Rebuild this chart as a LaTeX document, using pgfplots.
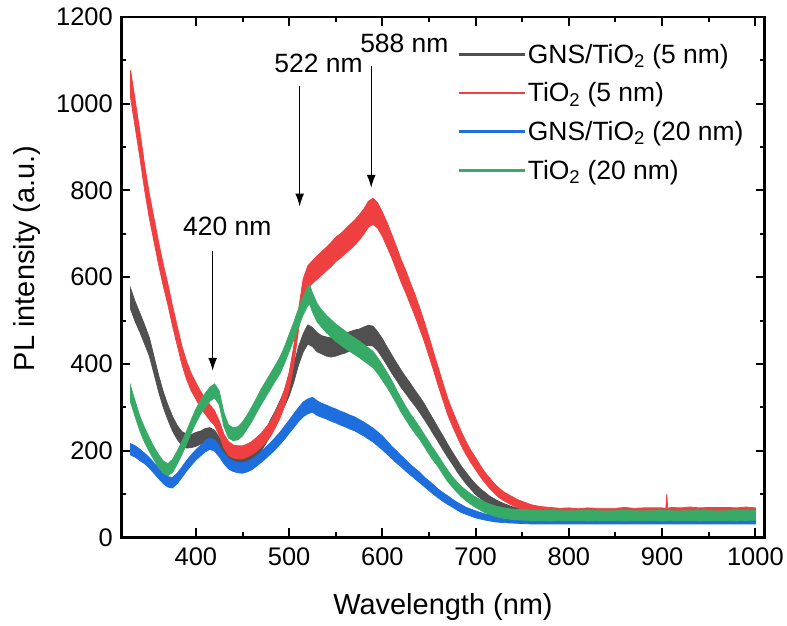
\documentclass[border=0pt]{standalone}
\usepackage{fontspec}
\setmainfont{Liberation Sans}
\usepackage{pgfplots}
\pgfplotsset{compat=1.18}
\usepackage{pgfplotstable}
\usepgfplotslibrary{fillbetween}
\usetikzlibrary{arrows.meta}
\definecolor{cblack}{RGB}{80,80,80}
\definecolor{cred}{RGB}{238,64,64}
\definecolor{cblue}{RGB}{30,110,222}
\definecolor{cgreen}{RGB}{56,170,104}

% columns: wavelength, band centre, band half-width (noise)
\pgfplotstableread{
x c h
330 550 24
335 520 23
340 495 22
345 468 22
350 440 21
355 398 20
360 355 19
365 318 18
370 288 17
375 262 17
380 242 16
385 228 16
390 222 16
395 222 15
400 226 16
405 230 15
410 235 16
415 238 15
420 232 15
425 216 15
430 198 14
435 186 14
440 180 14
445 178 13
450 178 14
455 183 14
460 190 14
465 200 15
470 214 15
475 232 16
480 254 17
485 274 17
490 296 18
495 320 18
500 345 19
505 378 20
510 418 21
515 448 21
520 468 22
525 462 22
530 450 22
535 444 21
540 440 22
545 438 22
550 440 22
555 444 22
560 448 23
565 452 22
570 455 23
575 458 22
580 462 23
585 466 23
590 464 23
595 452 22
600 436 22
605 418 21
610 400 21
615 383 20
620 366 20
625 351 19
630 336 19
635 321 18
640 306 18
645 290 18
650 272 17
655 254 17
660 236 16
665 218 16
670 200 15
675 183 14
680 166 14
685 150 13
690 136 13
695 123 12
700 111 12
705 101 11
710 93 11
715 85 10
720 79 10
725 73 10
730 68 10
740 61 9
750 56 9
760 53 9
780 50 9
800 48 9
850 48 9
900 48 9
950 48 9
1000 48 9
}\blk

\pgfplotstableread{
x c h
330 1045 32
335 975 31
340 905 30
345 830 29
350 765 28
355 710 27
360 655 26
365 605 25
370 560 24
375 510 23
380 465 22
385 420 21
390 385 21
395 358 20
400 338 19
405 318 19
410 302 18
415 288 18
420 275 17
425 252 17
430 222 16
435 205 16
440 198 15
445 196 15
450 196 15
455 200 15
460 206 15
465 214 16
470 224 16
475 236 17
480 250 17
485 270 18
490 292 18
495 322 19
500 360 20
505 420 21
510 500 23
515 572 24
520 600 26
525 612 26
530 622 27
535 632 27
540 642 27
545 652 28
550 664 28
555 672 28
560 682 28
565 692 29
570 702 29
575 714 29
580 728 29
585 745 30
590 752 30
595 742 29
600 722 28
605 698 28
610 672 27
615 644 27
620 615 26
625 590 26
630 562 25
635 535 25
640 505 24
645 474 23
650 440 22
655 405 21
660 370 21
665 336 20
670 302 19
675 275 18
680 250 17
685 226 16
690 205 15
695 186 14
700 170 14
705 153 13
710 138 12
715 125 12
720 113 11
725 103 11
730 95 10
735 89 10
740 83 10
745 78 9
750 74 9
755 70 9
760 67 8
770 63 8
780 61 8
790 60 7
800 60 8
810 59 7
820 60 8
830 60 7
840 59 8
850 60 7
860 61 8
870 60 7
880 60 8
890 61 7
900 60 8
904 60 7
905 80 20
906 60 7
910 61 8
920 61 7
930 62 8
940 61 7
950 61 8
960 62 7
970 61 8
980 61 7
990 62 8
1000 61 7
}\red

\pgfplotstableread{
x c h
330 203 13
335 198 13
340 190 13
345 182 12
350 172 12
355 160 12
360 148 12
365 136 12
370 128 12
375 126 12
380 136 12
385 150 12
390 165 12
395 178 12
400 190 12
405 200 12
410 210 13
415 216 13
420 212 13
425 198 12
430 182 12
435 170 12
440 164 12
445 161 12
450 160 12
455 163 12
460 168 12
465 176 12
470 185 12
475 195 13
480 205 13
485 216 14
490 228 14
495 241 15
500 255 15
505 269 16
510 283 16
515 295 17
520 302 17
525 306 17
530 298 17
535 293 16
540 289 16
545 284 16
550 280 16
555 275 16
560 271 16
565 266 16
570 262 16
575 256 16
580 250 16
585 243 16
590 236 16
595 227 16
600 218 16
605 207 15
610 196 14
615 186 14
620 176 13
625 166 13
630 156 12
635 147 12
640 138 12
645 128 11
650 119 11
655 110 11
660 101 10
665 93 10
670 86 10
675 79 9
680 72 9
685 66 9
690 61 8
695 57 8
700 53 8
710 47 7
720 43 7
730 41 7
740 40 7
750 39 7
760 38 7
780 38 7
800 38 7
820 38 7
840 38 7
860 38 7
880 38 7
900 38 7
920 38 7
940 38 7
960 38 7
980 38 7
1000 38 7
}\blu

\pgfplotstableread{
x c h
330 330 19
335 295 18
340 262 17
345 236 17
350 214 16
355 194 15
360 176 15
365 162 14
370 156 14
375 165 15
380 184 15
385 206 15
390 230 15
395 256 15
400 280 16
405 300 16
410 316 16
415 330 16
420 338 16
425 322 16
430 272 16
435 244 15
440 238 15
445 240 15
450 250 16
455 266 16
460 284 17
465 304 17
470 324 18
475 342 18
480 360 18
485 378 18
490 396 19
495 420 19
500 448 20
505 476 20
510 506 21
515 534 21
520 556 22
522 560 22
525 542 22
530 518 21
535 504 20
540 492 20
545 482 20
550 472 20
555 464 20
560 456 20
565 448 19
570 441 19
575 434 19
580 426 19
585 418 19
590 410 19
595 396 18
600 380 18
605 363 17
610 345 17
615 325 16
620 305 16
625 287 15
630 270 15
635 255 15
640 240 14
645 223 14
650 206 14
655 190 14
660 175 13
665 158 13
670 142 13
675 128 12
680 116 12
685 105 12
690 96 12
695 88 12
700 81 12
710 69 12
720 61 12
730 56 12
740 53 12
750 52 12
760 51 12
780 50 12
800 50 11
820 50 12
840 50 11
860 50 12
880 50 11
900 50 12
920 50 11
940 50 12
960 50 11
980 50 12
1000 51 11
}\grn

\begin{document}
\begin{tikzpicture}
\begin{axis}[
  scale only axis, width=644.5pt, height=521.3pt,
  xmin=320, xmax=1010, ymin=0, ymax=1200,
  xtick={400,500,...,1000}, ytick={0,200,...,1200},
  minor x tick num=1, minor y tick num=1,
  tick align=inside, tick pos=both,
  major tick length=9pt, minor tick length=5pt,
  every tick/.style={black, line width=2pt},
  axis line style={line width=2.5pt},
  xlabel={Wavelength (nm)}, ylabel={PL intensity (a.u.)},
  every axis x label/.style={at={(axis description cs:0.5,-0.1347)}, anchor=center},
  every axis y label/.style={at={(axis description cs:-0.1466,0.536)}, rotate=90, anchor=center},
  label style={font=\fontsize{29}{34}\selectfont},
  tick label style={font=\fontsize{25.5}{30}\selectfont},
  /pgf/number format/assume math mode=true,
  /pgf/number format/1000 sep={},
  scaled ticks=false,
  yticklabel style={xshift=-5pt},
  xticklabel style={yshift=-7pt},
  legend image code/.code={\draw[#1] (0pt,0pt) -- (62pt,0pt); \path (0pt,0pt) -- (66pt,0pt);},
  legend style={at={(0.5175,0.956)}, anchor=north west, draw=none, fill=none,
    font=\fontsize{26.5}{31}\selectfont, row sep=14pt},
  legend cell align=left,
]
\addplot[name path=ku, draw=none, forget plot] table[x=x, y expr=\thisrow{c}+\thisrow{h}] {\blk};
\addplot[name path=kl, draw=none, forget plot] table[x=x, y expr=\thisrow{c}-\thisrow{h}] {\blk};
\addplot[fill=cblack, draw=cblack, line width=0.8pt, forget plot] fill between[of=ku and kl];

\addplot[name path=ru, draw=none, forget plot] table[x=x, y expr=\thisrow{c}+\thisrow{h}] {\red};
\addplot[name path=rl, draw=none, forget plot] table[x=x, y expr=\thisrow{c}-\thisrow{h}] {\red};
\addplot[fill=cred, draw=cred, line width=0.8pt, forget plot] fill between[of=ru and rl];

\addplot[name path=bu, draw=none, forget plot] table[x=x, y expr=\thisrow{c}+\thisrow{h}] {\blu};
\addplot[name path=bl, draw=none, forget plot] table[x=x, y expr=\thisrow{c}-\thisrow{h}] {\blu};
\addplot[fill=cblue, draw=cblue, line width=0.8pt, forget plot] fill between[of=bu and bl];

\addplot[name path=gu, draw=none, forget plot] table[x=x, y expr=\thisrow{c}+\thisrow{h}] {\grn};
\addplot[name path=gl, draw=none, forget plot] table[x=x, y expr=\thisrow{c}-\thisrow{h}] {\grn};
\addplot[fill=cgreen, draw=cgreen, line width=0.8pt, forget plot] fill between[of=gu and gl];

\addlegendimage{cblack, line width=2.5pt}
\addlegendentry{GNS/TiO\textsubscript{2} (5 nm)}
\addlegendimage{cred, line width=2.5pt}
\addlegendentry{TiO\textsubscript{2} (5 nm)}
\addlegendimage{cblue, line width=2.5pt}
\addlegendentry{GNS/TiO\textsubscript{2} (20 nm)}
\addlegendimage{cgreen, line width=2.5pt}
\addlegendentry{TiO\textsubscript{2} (20 nm)}

\node[font=\fontsize{26.5}{31}\selectfont] at (axis cs:433.7,716.6) {420 nm};
\draw[line width=1.3pt, -{Latex[length=13pt,width=9pt]}] (axis cs:418,660) -- (axis cs:418,384);
\node[font=\fontsize{26.5}{31}\selectfont] at (axis cs:531.6,1092) {522 nm};
\draw[line width=1.3pt, -{Latex[length=13pt,width=9pt]}] (axis cs:511.3,1040) -- (axis cs:511.3,763);
\node[font=\fontsize{26.5}{31}\selectfont] at (axis cs:623.6,1139.5) {588 nm};
\draw[line width=1.3pt, -{Latex[length=13pt,width=9pt]}] (axis cs:588,1086) -- (axis cs:588,806);
\end{axis}
\path (current axis.south west) ++(-121.5pt,-88.7pt) rectangle ([shift={(21pt,17pt)}]current axis.north east);
\end{tikzpicture}
\end{document}
